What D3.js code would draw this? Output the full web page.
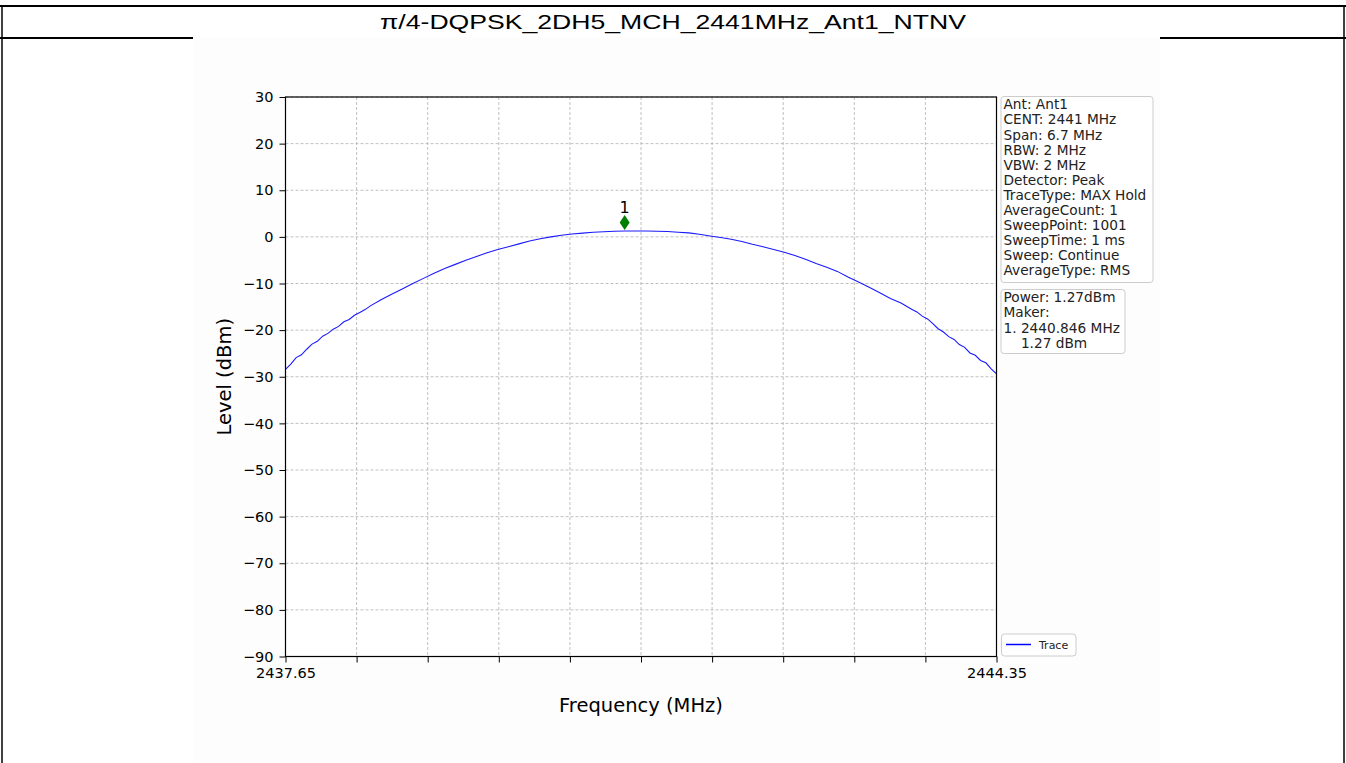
<!DOCTYPE html>
<html>
<head>
<meta charset="utf-8">
<script src="https://cdn.jsdelivr.net/npm/d3@7"></script>
<style>
  body { margin: 0; background: #fff; }
  svg { display: block; }
</style>
</head>
<body>
<script>
var w = 1346;
var h = 763;

var title = "π/4-DQPSK_2DH5_MCH_2441MHz_Ant1_NTNV";

// trace (finer near the noisy edges)
var freqs = [2437.65, 2437.70, 2437.75, 2437.80, 2437.85, 2437.90, 2437.95, 2438.00, 2438.05, 2438.10,
  2438.15, 2438.20, 2438.25, 2438.30, 2438.35, 2438.40, 2438.45, 2438.55,
  2438.65, 2438.75, 2438.85, 2438.95, 2439.05, 2439.15, 2439.25, 2439.35, 2439.45, 2439.55,
  2439.65, 2439.75, 2439.85, 2439.95, 2440.05, 2440.15, 2440.25, 2440.35, 2440.45, 2440.55,
  2440.65, 2440.75, 2440.85, 2440.95, 2441.05, 2441.15, 2441.25, 2441.35, 2441.45, 2441.55,
  2441.65, 2441.75, 2441.85, 2441.95, 2442.05, 2442.15, 2442.25, 2442.35, 2442.45, 2442.55,
  2442.65, 2442.75, 2442.85, 2442.95, 2443.05, 2443.15, 2443.25, 2443.35, 2443.45,
  2443.55, 2443.60, 2443.65, 2443.70, 2443.75, 2443.80, 2443.85, 2443.90, 2443.95, 2444.00,
  2444.05, 2444.10, 2444.15, 2444.20, 2444.25, 2444.30, 2444.35];
var levels = [-28.4, -27.3, -25.9, -25.3, -24.1, -23.0, -22.4, -21.3, -20.7, -19.8,
  -19.2, -18.2, -17.7, -16.8, -16.2, -15.6, -14.8, -13.5,
  -12.3, -11.2, -10.0, -8.9, -7.8, -6.8, -5.9, -5.0, -4.2, -3.4,
  -2.7, -2.1, -1.5, -0.9, -0.4, 0.0, 0.35, 0.6, 0.8, 1.0,
  1.1, 1.2, 1.27, 1.25, 1.25, 1.2, 1.15, 1.0, 0.85, 0.55,
  0.2, -0.15, -0.5, -1.0, -1.6, -2.1, -2.7, -3.3, -4.0, -4.8,
  -5.7, -6.5, -7.4, -8.6, -9.7, -10.8, -12.0, -13.2, -14.2,
  -15.5, -16.1, -17.0, -17.6, -18.6, -19.7, -20.4, -21.4, -22.0, -23.1,
  -23.7, -24.9, -25.4, -26.5, -27.0, -28.3, -29.4];

var yTicks = [30, 20, 10, 0, -10, -20, -30, -40, -50, -60, -70, -80, -90];
var xTicks = [2437.65, 2438.32, 2438.99, 2439.66, 2440.33, 2441.0, 2441.67, 2442.34, 2443.01, 2443.68, 2444.35];
var xLabels = ["2437.65", "", "", "", "", "", "", "", "", "", "2444.35"];

var markerFreq = 2440.846;
var markerLevel = 1.27;

var infoLines = ["Ant: Ant1", "CENT: 2441 MHz", "Span: 6.7 MHz", "RBW: 2 MHz", "VBW: 2 MHz",
  "Detector: Peak", "TraceType: MAX Hold", "AverageCount: 1", "SweepPoint: 1001",
  "SweepTime: 1 ms", "Sweep: Continue", "AverageType: RMS"];
var markerLines = ["Power: 1.27dBm", "Maker:", "1. 2440.846 MHz", "    1.27 dBm"];

var svg = d3.select("body")
.append("svg")
.attr("width", w)
.attr("height", h);

var dv = "DejaVu Sans";

// outer frame + title row
svg.append("rect").attr("x", 0).attr("y", 0).attr("width", w).attr("height", h).attr("fill", "#fff");
svg.append("line").attr("x1", 0).attr("x2", w).attr("y1", 6).attr("y2", 6)
.attr("stroke", "#000").attr("stroke-width", 2);
svg.append("line").attr("x1", 2).attr("x2", 2).attr("y1", 6).attr("y2", h)
.attr("stroke", "#000").attr("stroke-width", 1.5);
svg.append("line").attr("x1", 1344).attr("x2", 1344).attr("y1", 6).attr("y2", h)
.attr("stroke", "#000").attr("stroke-width", 1.5);
svg.append("line").attr("x1", 0).attr("x2", w).attr("y1", 38).attr("y2", 38)
.attr("stroke", "#000").attr("stroke-width", 2);

svg.append("text")
.attr("x", 673).attr("y", 29)
.attr("text-anchor", "middle")
.attr("font-family", "Liberation Sans, Arial, sans-serif")
.attr("font-size", "21px")
.attr("textLength", 586)
.attr("lengthAdjust", "spacingAndGlyphs")
.attr("fill", "#000")
.text(title);

// figure image area (covers the title line in the middle)
svg.append("rect").attr("x", 193).attr("y", 37).attr("width", 967).attr("height", h - 37)
.attr("fill", "#fdfdfd");

var pLeft = 285.5, pRight = 996.5, pTop = 97, pBottom = 656.5;

var x = d3.scaleLinear().domain([2437.65, 2444.35]).range([pLeft, pRight]);
var y = d3.scaleLinear().domain([-90, 30]).range([pBottom, pTop]);

svg.append("rect").attr("x", pLeft).attr("y", pTop).attr("width", pRight - pLeft).attr("height", pBottom - pTop)
.attr("fill", "#fff");

// grid
svg.append("g").selectAll("line")
.data(yTicks)
.enter()
.append("line")
.attr("x1", pLeft).attr("x2", pRight)
.attr("y1", function(d) { return y(d); })
.attr("y2", function(d) { return y(d); })
.attr("stroke", "#b0b0b0").attr("stroke-width", 0.8).attr("stroke-dasharray", "3,2");

svg.append("g").selectAll("line")
.data(xTicks)
.enter()
.append("line")
.attr("y1", pTop).attr("y2", pBottom)
.attr("x1", function(d) { return x(d); })
.attr("x2", function(d) { return x(d); })
.attr("stroke", "#b0b0b0").attr("stroke-width", 0.8).attr("stroke-dasharray", "3,2");

// trace
var pts = freqs.map(function(f, i) { return [f, levels[i]]; });
svg.append("path")
.datum(pts)
.attr("fill", "none")
.attr("stroke", "#1a1aff")
.attr("stroke-width", 1.1)
.attr("d", d3.line()
  .x(function(d) { return x(d[0]); })
  .y(function(d) { return y(d[1]); }));

// axes
var yAxis = d3.axisLeft(y).tickValues(yTicks).tickSize(6).tickPadding(6)
.tickFormat(function(d) { return d < 0 ? "\u2212" + Math.abs(d) : d; });
var gy = svg.append("g").attr("transform", "translate(" + pLeft + ",0)").call(yAxis);

var xAxis = d3.axisBottom(x).tickValues(xTicks).tickSize(6).tickPadding(5)
.tickFormat(function(d, i) { return xLabels[i]; });
var gx = svg.append("g").attr("transform", "translate(0," + pBottom + ")").call(xAxis);

[gx, gy].forEach(function(g) {
  g.select(".domain").remove();
  g.selectAll(".tick line").attr("stroke", "#000").attr("stroke-width", 1);
  g.selectAll(".tick text").attr("font-family", dv).attr("font-size", "14.5px").attr("fill", "#000");
});

// spines
svg.append("rect").attr("x", pLeft).attr("y", pTop).attr("width", pRight - pLeft).attr("height", pBottom - pTop)
.attr("fill", "none").attr("stroke", "#000").attr("stroke-width", 1.2);

// axis labels
svg.append("text")
.attr("x", (pLeft + pRight) / 2).attr("y", 712)
.attr("text-anchor", "middle")
.attr("font-family", dv).attr("font-size", "19.5px").attr("fill", "#000")
.text("Frequency (MHz)");

svg.append("text")
.attr("transform", "translate(231," + ((pTop + pBottom) / 2) + ") rotate(-90)")
.attr("text-anchor", "middle")
.attr("font-family", dv).attr("font-size", "19.5px").attr("fill", "#000")
.text("Level (dBm)");

// marker
var mx = x(markerFreq), my = y(markerLevel) - 8.5;
svg.append("path")
.attr("d", "M" + mx + "," + (my - 7.5) + "L" + (mx + 5) + "," + my + "L" + mx + "," + (my + 7.5) + "L" + (mx - 5) + "," + my + "Z")
.attr("fill", "#008000");
svg.append("text")
.attr("x", mx).attr("y", my - 9)
.attr("text-anchor", "middle")
.attr("font-family", dv).attr("font-size", "16px").attr("fill", "#000")
.text("1");

// info boxes
function box(lines, bx, by, bw, bh) {
  svg.append("rect").attr("x", bx).attr("y", by).attr("width", bw).attr("height", bh)
  .attr("rx", 3).attr("fill", "#fff").attr("stroke", "#cccccc").attr("stroke-width", 1);
  svg.append("g").selectAll("text")
  .data(lines)
  .enter()
  .append("text")
  .attr("x", bx + 2.5)
  .attr("y", function(d, i) { return by + 12.8 + i * 15.1; })
  .attr("font-family", dv).attr("font-size", "13.7px").attr("fill", "#222")
  .attr("xml:space", "preserve")
  .style("white-space", "pre")
  .text(function(d) { return d; });
}
box(infoLines, 1001, 96.5, 152, 186);
box(markerLines, 1001, 289.5, 124, 64);

// legend
svg.append("rect").attr("x", 1001.5).attr("y", 634).attr("width", 74.5).attr("height", 22)
.attr("rx", 3).attr("fill", "#fff").attr("stroke", "#cccccc").attr("stroke-width", 1);
svg.append("line").attr("x1", 1006).attr("x2", 1031).attr("y1", 644.5).attr("y2", 644.5)
.attr("stroke", "#0000ff").attr("stroke-width", 1.5);
svg.append("text").attr("x", 1039).attr("y", 648.5)
.attr("font-family", dv).attr("font-size", "11px").attr("fill", "#222")
.text("Trace");
</script>
</body>
</html>
